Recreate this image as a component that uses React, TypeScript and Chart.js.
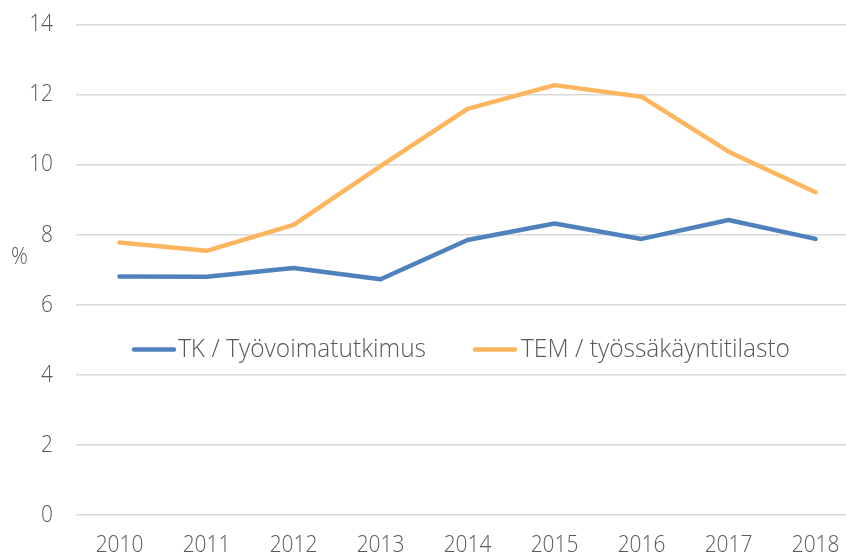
import React, { useEffect, useRef } from "react";
import { Chart, registerables } from "chart.js";

Chart.register(...registerables);

const years = [2010, 2011, 2012, 2013, 2014, 2015, 2016, 2017, 2018];
const tkValues = [6.81, 6.8, 7.05, 6.73, 7.85, 8.32, 7.88, 8.42, 7.88];
const temValues = [7.78, 7.54, 8.28, 9.96, 11.59, 12.27, 11.94, 10.37, 9.21];
const seriesLabels = ["TK / Työvoimatutkimus", "TEM / työssäkäyntitilasto"];
const seriesColors = ["#4F81BD", "#FDB55E"];
const yTicks = [0, 2, 4, 6, 8, 10, 12, 14];
const yTitle = "%";

const FONT = "'Open Sans', 'Noto Sans', sans-serif";
const TEXT = "#595959";

function drawSquashed(
  ctx: CanvasRenderingContext2D,
  text: string,
  x: number,
  y: number,
  align: "left" | "right" | "center",
  sx: number
) {
  ctx.save();
  ctx.translate(x, y);
  ctx.scale(sx, 1);
  ctx.textAlign = align;
  ctx.textBaseline = "middle";
  ctx.fillText(text, 0, 0);
  ctx.restore();
}

const textPlugin = {
  id: "squashedText",
  afterDraw(chart: any) {
    const ctx: CanvasRenderingContext2D = chart.ctx;
    const xs = chart.scales.x;
    const ys = chart.scales.y;
    const area = chart.chartArea;
    ctx.save();
    ctx.fillStyle = TEXT;
    ctx.font = `350 24px ${FONT}`;
    const tickSx = 0.87;
    yTicks.forEach((v) => {
      drawSquashed(ctx, String(v), area.left - 23, ys.getPixelForValue(v), "right", tickSx);
    });
    years.forEach((yr) => {
      drawSquashed(ctx, String(yr), xs.getPixelForValue(yr), area.bottom + 30, "center", tickSx);
    });
    drawSquashed(ctx, yTitle, 19.5, 257, "center", tickSx);

    // legend
    ctx.font = `350 26px ${FONT}`;
    const legendPos = [
      { lineX: 132, textX: 178, width: 248 },
      { lineX: 473, textX: 521, width: 269 },
    ];
    legendPos.forEach((p, i) => {
      const ly = 349.5;
      ctx.strokeStyle = seriesColors[i];
      ctx.lineWidth = 4.5;
      ctx.lineCap = "round";
      ctx.beginPath();
      ctx.moveTo(p.lineX + 2, ly);
      ctx.lineTo(p.lineX + 42, ly);
      ctx.stroke();
      const w = ctx.measureText(seriesLabels[i]).width;
      drawSquashed(ctx, seriesLabels[i], p.textX, ly, "left", p.width / w);
    });
    ctx.restore();
  },
};

export default function App() {
  const ref = useRef<HTMLCanvasElement>(null);
  useEffect(() => {
    const ctx = ref.current!;
    const chart = new Chart(ctx, {
      type: "line",
      data: {
        datasets: [tkValues, temValues].map((vals, i) => ({
          label: seriesLabels[i],
          data: years.map((y, j) => ({ x: y, y: vals[j] })),
          borderColor: seriesColors[i],
          backgroundColor: seriesColors[i],
          borderWidth: 4.5,
          pointRadius: 0,
          tension: 0,
          borderCapStyle: "round" as const,
          borderJoinStyle: "round" as const,
        })),
      },
      options: {
        animation: false,
        responsive: true,
        maintainAspectRatio: false,
        layout: { padding: { top: 24.5, left: 0, right: 0, bottom: 0 } },
        plugins: { legend: { display: false }, tooltip: { enabled: false } },
        scales: {
          x: {
            type: "linear",
            min: 2009.5,
            max: 2018.35,
            grid: { display: false, drawTicks: false },
            border: { display: false },
            afterBuildTicks: (s: any) => {
              s.ticks = years.map((v) => ({ value: v }));
            },
            afterFit: (s: any) => {
              s.height = 41;
              s.paddingLeft = 0;
              s.paddingRight = 0;
            },
            ticks: { display: false },
          },
          y: {
            min: 0,
            max: 14,
            afterBuildTicks: (s: any) => {
              s.ticks = yTicks.map((v) => ({ value: v }));
            },
            afterFit: (s: any) => {
              s.width = 76;
              s.paddingTop = 0;
              s.paddingBottom = 0;
            },
            grid: { color: "#D9D9D9", lineWidth: 1.5, drawTicks: false },
            border: { display: false },
            ticks: { display: false },
          },
        },
      },
      plugins: [textPlugin],
    });
    return () => chart.destroy();
  }, []);

  return (
    <div
      style={{
        position: "fixed",
        left: 0,
        top: 0,
        width: 846,
        height: 556,
        background: "#fff",
        overflow: "hidden",
      }}
    >
      <canvas ref={ref} />
    </div>
  );
}
